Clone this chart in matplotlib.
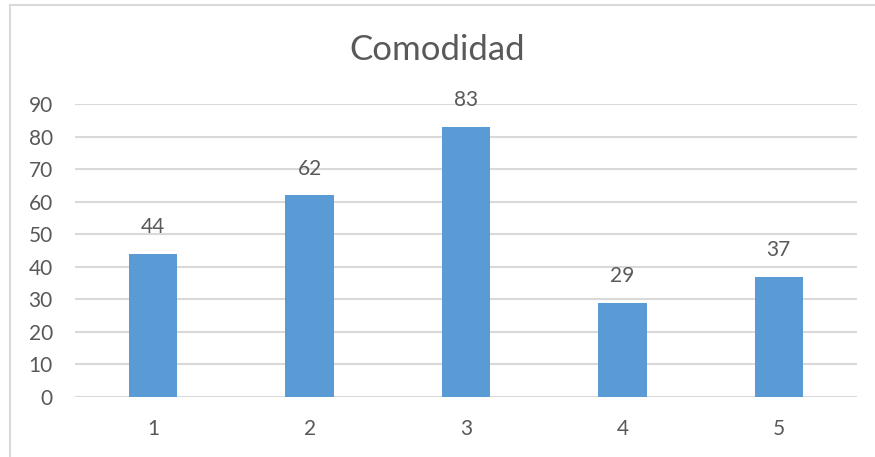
import matplotlib
matplotlib.use("Agg")
from matplotlib import pyplot as plt
from matplotlib.lines import Line2D

plt.rcParams['font.family'] = ['Lato', 'DejaVu Sans']

categories = [1, 2, 3, 4, 5]
values = [44, 62, 83, 29, 37]
title = "Comodidad"

text_color = "#595959"
grid_color = "#d9d9d9"
bar_color = "#5b9bd5"

fig = plt.figure(figsize=(8.75, 4.57), dpi=100)
ax = fig.add_axes([0.0857, 0.1313, 0.8937, 0.6411])

bars = ax.bar(categories, values, width=0.31, color=bar_color, zorder=3)

# value labels above each bar
for x, v in zip(categories, values):
    ax.annotate(str(v), (x, v), xytext=(0, 19), textcoords="offset points",
                ha="center", va="center", fontsize=15, color=text_color)

ax.set_xlim(0.5, 5.5)
ax.set_ylim(0, 90)
ax.set_yticks(range(0, 91, 10))
ax.set_xticks(categories)
ax.grid(axis="y", color=grid_color, linewidth=1.5, zorder=0)
for s in ax.spines.values():
    s.set_visible(False)
ax.tick_params(axis="both", length=0, labelsize=15, colors=text_color)
ax.tick_params(axis="y", pad=16)
ax.tick_params(axis="x", pad=16)

fig.text(0.5, 1 - 50 / 457, title, ha="center", va="center",
         fontsize=25, color=text_color)

# chart frame (left and top edges)
fig.add_artist(Line2D([10 / 875, 10 / 875], [0, 1 - 5 / 457],
                      transform=fig.transFigure, color=grid_color, linewidth=1.5))
fig.add_artist(Line2D([10 / 875, 1], [1 - 5 / 457, 1 - 5 / 457],
                      transform=fig.transFigure, color=grid_color, linewidth=1.5))

fig.savefig("out.png", dpi=100)
